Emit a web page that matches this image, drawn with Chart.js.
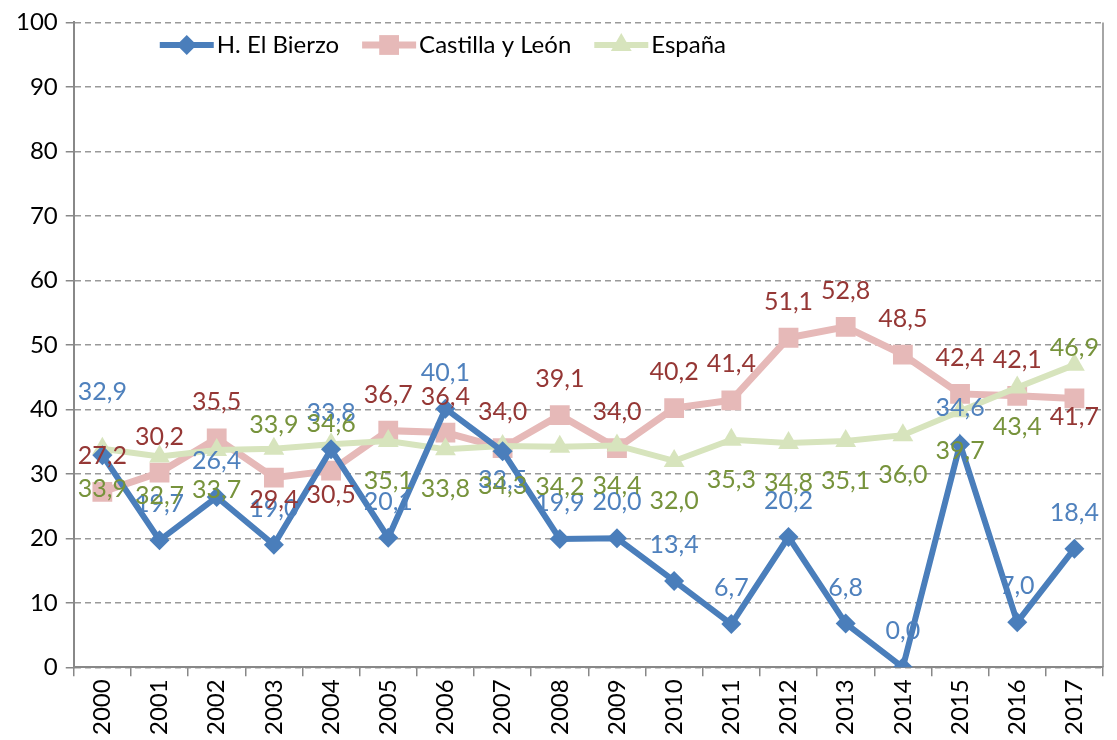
<!DOCTYPE html>
<html>
<head>
<meta charset="utf-8">
<script src="https://cdn.jsdelivr.net/npm/chart.js@4.4.0/dist/chart.umd.min.js"></script>
<style>
  html, body { margin: 0; padding: 0; background: #fff; }
  #wrap { width: 1117px; height: 740px; }
</style>
</head>
<body>
<div id="wrap"><canvas id="chart" width="1117" height="740"></canvas></div>
<script>
const years = ['2000', '2001', '2002', '2003', '2004', '2005', '2006', '2007', '2008',
               '2009', '2010', '2011', '2012', '2013', '2014', '2015', '2016', '2017'];
const bierzo = [32.9, 19.7, 26.4, 19.0, 33.8, 20.1, 40.1, 33.5, 19.9, 20.0, 13.4, 6.7, 20.2, 6.8, 0.0, 34.6, 7.0, 18.4];
const castilla = [27.2, 30.2, 35.5, 29.4, 30.5, 36.7, 36.4, 34.0, 39.1, 34.0, 40.2, 41.4, 51.1, 52.8, 48.5, 42.4, 42.1, 41.7];
const espana = [33.9, 32.7, 33.7, 33.9, 34.6, 35.1, 33.8, 34.3, 34.2, 34.4, 32.0, 35.3, 34.8, 35.1, 36.0, 39.7, 43.4, 46.9];
const yMin = 0, yMax = 100, yStep = 10;

const FONT = 'Lato, "Open Sans", sans-serif';

// where each series puts its value labels (px from the point), with a few hand-placed ones
const labelStyle = [
  { color: '#4F81BD', dy: -36, except: { 0: -63, 7: 29 } },
  { color: '#953735', dy: -36, except: { 3: 22, 4: 24, 17: 19 } },
  { color: '#77933C', dy: 40, except: { 3: -24, 4: -20, 17: -17 } }
];

function fmt(v) {
  return v.toFixed(1).replace('.', ',');
}

function marker(ctx, style, x, y, r, color) {
  ctx.save();
  ctx.fillStyle = color;
  ctx.beginPath();
  if (style === 'rectRot') {
    ctx.moveTo(x, y - r); ctx.lineTo(x + r, y); ctx.lineTo(x, y + r); ctx.lineTo(x - r, y);
  } else if (style === 'rect') {
    const s = r * Math.SQRT1_2;
    ctx.rect(x - s, y - s, 2 * s, 2 * s);
  } else {
    ctx.moveTo(x, y - r); ctx.lineTo(x + r * 0.866, y + r * 0.5); ctx.lineTo(x - r * 0.866, y + r * 0.5);
  }
  ctx.closePath();
  ctx.fill();
  ctx.restore();
}

const extras = {
  id: 'extras',
  afterDraw(chart) {
    const ctx = chart.ctx;
    const area = chart.chartArea;

    // right edge of the plot box
    ctx.save();
    ctx.strokeStyle = '#888';
    ctx.lineWidth = 1.5;
    ctx.beginPath();
    ctx.moveTo(area.right, area.top);
    ctx.lineTo(area.right, area.bottom);
    ctx.stroke();
    ctx.restore();

    // value labels
    ctx.save();
    ctx.font = '25px ' + FONT;
    ctx.textAlign = 'center';
    ctx.textBaseline = 'middle';
    chart.data.datasets.forEach((ds, i) => {
      const meta = chart.getDatasetMeta(i);
      const st = labelStyle[i];
      ctx.fillStyle = st.color;
      meta.data.forEach((pt, j) => {
        const dy = st.except[j] !== undefined ? st.except[j] : st.dy;
        ctx.fillText(fmt(ds.data[j]), pt.x, pt.y + dy);
      });
    });
    ctx.restore();

    // legend: line sample with marker, then name
    ctx.save();
    ctx.font = '24px ' + FONT;
    ctx.textBaseline = 'middle';
    ctx.fillStyle = '#000';
    let x = area.left + 86;
    const y = 45;
    chart.data.datasets.forEach(ds => {
      ctx.strokeStyle = ds.borderColor;
      ctx.lineWidth = ds.borderWidth;
      ctx.beginPath();
      ctx.moveTo(x, y);
      ctx.lineTo(x + 54, y);
      ctx.stroke();
      marker(ctx, ds.pointStyle, x + 27, y, ds.pointRadius, ds.borderColor);
      ctx.fillText(ds.label, x + 57, y);
      x += 57 + ctx.measureText(ds.label).width + 23;
    });
    ctx.restore();
  }
};

new Chart(document.getElementById('chart'), {
  type: 'line',
  data: {
    labels: years,
    datasets: [
      {
        label: 'H. El Bierzo',
        data: bierzo,
        borderColor: '#4A7EBB',
        backgroundColor: '#4A7EBB',
        borderWidth: 6,
        pointStyle: 'rectRot',
        pointRadius: 10,
        pointBorderWidth: 0,
        order: 0
      },
      {
        label: 'Castilla y León',
        data: castilla,
        borderColor: '#E6B9B8',
        backgroundColor: '#E6B9B8',
        borderWidth: 7,
        pointStyle: 'rect',
        pointRadius: 14,
        pointBorderWidth: 0,
        order: 2
      },
      {
        label: 'España',
        data: espana,
        borderColor: '#D7E4BD',
        backgroundColor: '#D7E4BD',
        borderWidth: 6,
        pointStyle: 'triangle',
        pointRadius: 12,
        pointBorderWidth: 0,
        order: 1
      }
    ]
  },
  options: {
    responsive: false,
    animation: false,
    devicePixelRatio: 1,
    layout: { padding: { left: 8, right: 10, top: 1, bottom: 2 } },
    plugins: {
      legend: { display: false },
      tooltip: { enabled: false }
    },
    scales: {
      x: {
        offset: true,
        grid: { drawOnChartArea: false, offset: true, tickLength: 9, color: '#888', lineWidth: 1.5 },
        border: { color: '#888', width: 2 },
        ticks: { minRotation: 90, maxRotation: 90, color: '#000', font: { family: FONT, size: 24 } }
      },
      y: {
        min: yMin,
        max: yMax,
        grid: { color: '#999', lineWidth: 1.5, tickLength: 8, tickColor: '#888' },
        border: { color: '#888', width: 2, dash: [6, 4] },
        ticks: { stepSize: yStep, color: '#000', padding: 8, font: { family: FONT, size: 24 } }
      }
    }
  },
  plugins: [extras]
});
</script>
</body>
</html>
